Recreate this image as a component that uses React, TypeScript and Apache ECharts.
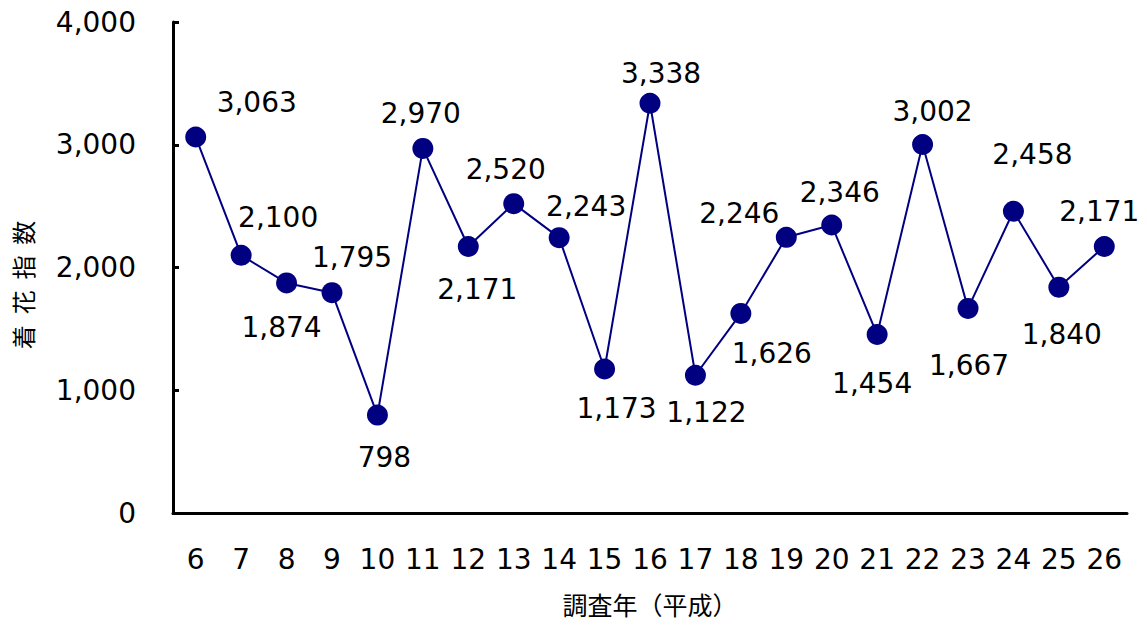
import React, { useEffect, useRef } from "react";
import * as echarts from "echarts";

const years = ["6","7","8","9","10","11","12","13","14","15","16","17","18","19","20","21","22","23","24","25","26"];
const values = [3063,2100,1874,1795,798,2970,2171,2520,2243,1173,3338,1122,1626,2246,2346,1454,3002,1667,2458,1840,2171];
const labelOffsets: [number, number][] = [
  [61,-35],[37,-38],[-5,45],[20,-35],[7,42],[-2,-35],[9,43],[-8,-34],[27,-31],[12,39],
  [11,-30],[11,37],[31,40],[-47,-24],[8,-33],[-5,49],[10,-33],[1,57],[19,-57],[3,47],[-5,-35]
];
const yTicks = [0, 1000, 2000, 3000, 4000];
const yName = "着  花  指  数";
const xName = "調査年（平成）";

const FONT = "'DejaVu Sans', 'Noto Sans CJK JP', sans-serif";
const CJK = "'Noto Sans CJK JP', sans-serif";
const fmt = (v: number) => v.toLocaleString("en-US");

export default function App() {
  const ref = useRef<HTMLDivElement>(null);
  useEffect(() => {
    if (!ref.current) return;
    const chart = echarts.init(ref.current, null, { renderer: "svg" });
    chart.setOption({
      animation: false,
      backgroundColor: "#ffffff",
      textStyle: { fontFamily: FONT },
      grid: { left: 173, right: 20, top: 22, bottom: 113 },
      xAxis: {
        type: "category",
        data: years,
        boundaryGap: true,
        name: xName,
        nameLocation: "middle",
        nameGap: 78,
        nameTextStyle: { fontSize: 25, color: "#000", fontFamily: CJK },
        axisLine: { lineStyle: { color: "#000", width: 3 } },
        axisTick: { inside: true, length: 8, lineStyle: { color: "#000", width: 3 } },
        axisLabel: { color: "#000", fontSize: 28, margin: 32, fontFamily: FONT, interval: 0 },
        splitLine: { show: false },
      },
      yAxis: {
        type: "value",
        min: yTicks[0],
        max: yTicks[yTicks.length - 1],
        interval: 1000,
        axisLine: { show: true, lineStyle: { color: "#000", width: 3 } },
        axisTick: { show: true, inside: true, length: 6, lineStyle: { color: "#000", width: 3 } },
        axisLabel: { color: "#000", fontSize: 28, margin: 37, fontFamily: FONT, formatter: (v: number) => fmt(v) },
        splitLine: { show: false },
      },
      graphic: [
        {
          type: "text",
          x: 22,
          y: 285,
          rotation: Math.PI / 2,
          style: {
            text: yName,
            fill: "#000",
            fontSize: 24,
            fontFamily: CJK,
            textAlign: "center",
            textVerticalAlign: "middle",
          },
        },
      ],
      series: [
        {
          type: "line",
          data: values.map((v, i) => ({
            value: v,
            label: { offset: labelOffsets[i] },
          })),
          symbol: "circle",
          symbolSize: 21,
          itemStyle: { color: "#000080" },
          lineStyle: { color: "#000080", width: 2 },
          label: {
            show: true,
            position: "inside",
            align: "center",
            verticalAlign: "middle",
            color: "#000",
            fontSize: 28,
            fontFamily: FONT,
            formatter: (p: any) => fmt(p.value),
          },
        },
      ],
    });
    return () => chart.dispose();
  }, []);
  return (
    <div
      ref={ref}
      style={{ position: "fixed", left: 0, top: 0, width: 1147, height: 626 }}
    />
  );
}
